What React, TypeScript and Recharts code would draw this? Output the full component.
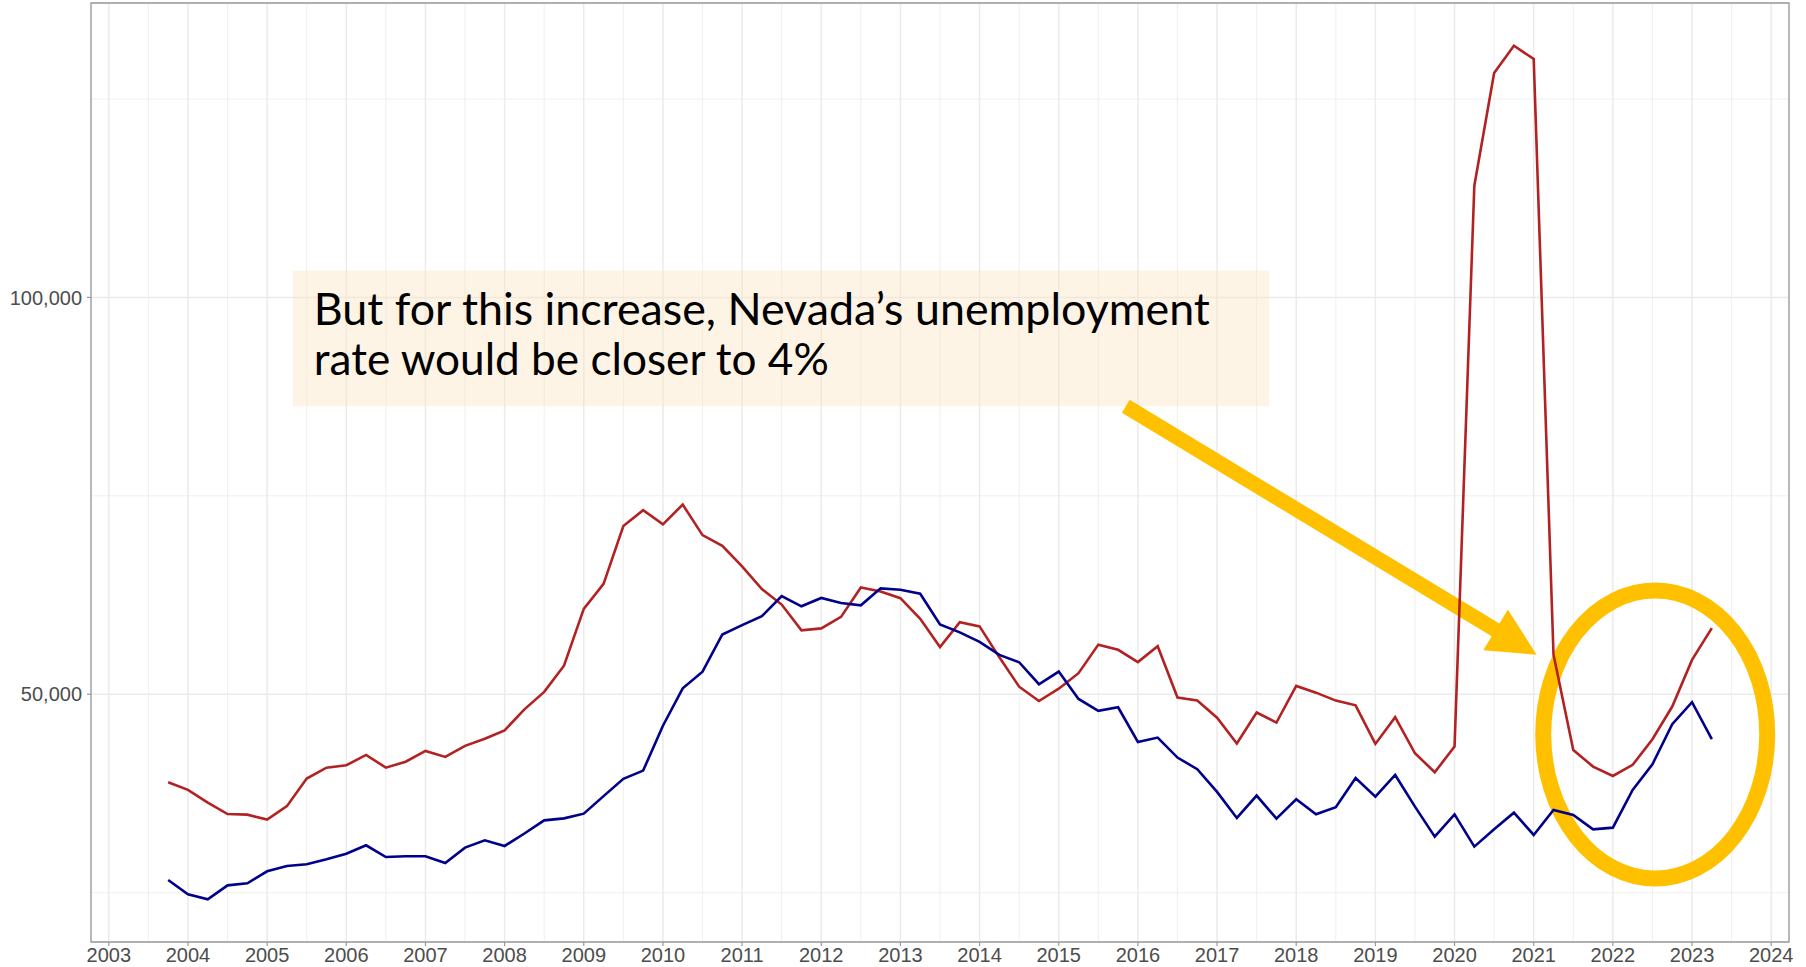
import React from 'react';
import {
  LineChart,
  Line,
  XAxis,
  YAxis,
  CartesianGrid,
  ReferenceLine,
  ReferenceArea,
  ReferenceDot,
  Label,
} from 'recharts';

// quarterly observations, 2003 Q4 .. 2023 Q2
const QUARTERS = [
  '2003Q4',
  '2004Q1', '2004Q2', '2004Q3', '2004Q4',
  '2005Q1', '2005Q2', '2005Q3', '2005Q4',
  '2006Q1', '2006Q2', '2006Q3', '2006Q4',
  '2007Q1', '2007Q2', '2007Q3', '2007Q4',
  '2008Q1', '2008Q2', '2008Q3', '2008Q4',
  '2009Q1', '2009Q2', '2009Q3', '2009Q4',
  '2010Q1', '2010Q2', '2010Q3', '2010Q4',
  '2011Q1', '2011Q2', '2011Q3', '2011Q4',
  '2012Q1', '2012Q2', '2012Q3', '2012Q4',
  '2013Q1', '2013Q2', '2013Q3', '2013Q4',
  '2014Q1', '2014Q2', '2014Q3', '2014Q4',
  '2015Q1', '2015Q2', '2015Q3', '2015Q4',
  '2016Q1', '2016Q2', '2016Q3', '2016Q4',
  '2017Q1', '2017Q2', '2017Q3', '2017Q4',
  '2018Q1', '2018Q2', '2018Q3', '2018Q4',
  '2019Q1', '2019Q2', '2019Q3', '2019Q4',
  '2020Q1', '2020Q2', '2020Q3', '2020Q4',
  '2021Q1', '2021Q2', '2021Q3', '2021Q4',
  '2022Q1', '2022Q2', '2022Q3', '2022Q4',
  '2023Q1', '2023Q2',
];

const RED = [
  38900,
  37950, 36350, 34900, 34830,
  34200, 35900, 39370, 40750,
  41050, 42350, 40750, 41500,
  42850, 42100, 43500, 44400,
  45450, 48100, 50300, 53600,
  60750, 63900, 71200, 73200,
  71400, 73900, 70050, 68700,
  66100, 63250, 61300, 58050,
  58300, 59750, 63450, 62950,
  62100, 59500, 55950, 59070,
  58550, 54650, 50950, 49150,
  50700, 52650, 56250, 55600,
  54050, 56050, 49580, 49200,
  47050, 43800, 47700, 46430,
  51050, 50200, 49200, 48600,
  43740, 47100, 42560, 40170,
  43400, 114080, 128280, 131720,
  130040, 55000, 42980, 40880,
  39700, 41100, 44330, 48450,
  54330, 58330,
];

const BLUE = [
  26600,
  24790, 24160, 25920, 26180,
  27690, 28360, 28570, 29200,
  29910, 30970, 29490, 29580,
  29580, 28740, 30670, 31600,
  30880, 32450, 34110, 34360,
  34950, 37160, 39340, 40380,
  46030, 50750, 52840, 57530,
  58700, 59830, 62380, 61080,
  62130, 61500, 61200, 63340,
  63170, 62670, 58800, 57800,
  56600, 54960, 54030, 51260,
  52860, 49410, 47900, 48360,
  43990, 44540, 42020, 40550,
  37690, 34410, 37230, 34330,
  36760, 34870, 35760, 39450,
  37100, 39830, 35840, 32060,
  34870, 30800, 32980, 35080,
  32270, 35420, 34790, 32980,
  33190, 37940, 41180, 46220,
  48990, 44330,
];

const YEAR_TICKS = [
  2003, 2004, 2005, 2006, 2007, 2008, 2009, 2010, 2011, 2012, 2013,
  2014, 2015, 2016, 2017, 2018, 2019, 2020, 2021, 2022, 2023, 2024,
];
const Y_TICKS = [50000, 100000];
const Y_MINOR = [25000, 75000, 125000];

const X_DOMAIN = [2002.775, 2024.225];
const Y_DOMAIN = [18780, 137100];

// annotation, placed in data units
const NOTE_LINES = ['But for this increase, Nevada’s unemployment', 'rate would be closer to 4%'];
const NOTE_BOX = { x1: 2005.325, x2: 2017.658, y1: 86290, y2: 103405 };
const ARROW_FROM = { x: 2015.847, y: 86290 };
const ARROW_TO = { x: 2021.037, y: 54980 };
const RING_AT = { x: 2022.535, y: 44930 };

const YELLOW = '#FFC000';
const GRID = '#EBEBEB';
const FRAME = '#9A9A9A';
const AXIS_FONT = '"Liberation Sans", Arial, sans-serif';

const data = QUARTERS.map((q, i) => ({
  t: Number(q.slice(0, 4)) + (Number(q.slice(5)) - 1) / 4,
  red: RED[i],
  blue: BLUE[i],
}));

const halfYears = YEAR_TICKS.slice(0, -1).map(y => y + 0.5);

function ArrowShape(p: any) {
  const { x1, y1, x2, y2 } = p;
  if (x1 == null || x2 == null) return <g />;
  const len = Math.hypot(x2 - x1, y2 - y1);
  const ux = (x2 - x1) / len;
  const uy = (y2 - y1) / len;
  const nx = -uy;
  const ny = ux;
  const shaft = 7.5;
  const headW = 23.7;
  const headL = 48;
  const bx = x2 - ux * headL;
  const by = y2 - uy * headL;
  const pts = [
    [x1 + nx * shaft, y1 + ny * shaft],
    [bx + nx * shaft, by + ny * shaft],
    [bx + nx * headW, by + ny * headW],
    [x2, y2],
    [bx - nx * headW, by - ny * headW],
    [bx - nx * shaft, by - ny * shaft],
    [x1 - nx * shaft, y1 - ny * shaft],
  ];
  return <polygon points={pts.map(q => q.join(',')).join(' ')} fill={YELLOW} />;
}

function RingShape(p: any) {
  return <ellipse cx={p.cx} cy={p.cy} rx={112} ry={144} fill="none" stroke={YELLOW} strokeWidth={16} />;
}

function NoteText(props: any) {
  const vb = props.viewBox;
  if (!vb) return null;
  const style = { fontFamily: 'Lato, "Open Sans", sans-serif', fontSize: 44, fill: '#000' };
  return (
    <g>
      <text x={vb.x + 21} y={vb.y + 55} textLength={896} lengthAdjust="spacingAndGlyphs" style={style}>
        {NOTE_LINES[0]}
      </text>
      <text x={vb.x + 21} y={vb.y + 105} textLength={515} lengthAdjust="spacingAndGlyphs" style={style}>
        {NOTE_LINES[1]}
      </text>
    </g>
  );
}

export default function App() {
  const tick = { fill: '#4D4D4D', fontSize: 20, fontFamily: AXIS_FONT };
  return (
    <div style={{ position: 'absolute', left: 0, top: 0, width: 1806, height: 967, background: '#fff' }}>
      <LineChart width={1806} height={967} data={data} margin={{ top: 3, right: 17, bottom: 0, left: 0 }}>
        <CartesianGrid stroke={GRID} strokeWidth={1.5} />
        {halfYears.map(x => (
          <ReferenceLine key={'vx' + x} x={x} stroke={GRID} strokeWidth={0.8} zIndex={-90} />
        ))}
        {Y_MINOR.map(y => (
          <ReferenceLine key={'hy' + y} y={y} stroke={GRID} strokeWidth={0.8} zIndex={-90} />
        ))}
        <XAxis
          type="number"
          dataKey="t"
          domain={X_DOMAIN}
          ticks={YEAR_TICKS}
          allowDataOverflow
          height={25}
          axisLine={false}
          tickLine={{ stroke: FRAME, strokeWidth: 1.2 }}
          tickSize={4}
          tickMargin={2}
          tick={tick}
          interval={0}
        />
        <YAxis
          type="number"
          domain={Y_DOMAIN}
          ticks={Y_TICKS}
          allowDataOverflow
          width={91}
          axisLine={false}
          tickLine={{ stroke: FRAME, strokeWidth: 1.2 }}
          tickSize={4}
          tickMargin={5}
          tick={tick}
          tickFormatter={(v: number) => v.toLocaleString('en-US')}
        />
        <ReferenceArea
          x1={NOTE_BOX.x1}
          x2={NOTE_BOX.x2}
          y1={NOTE_BOX.y1}
          y2={NOTE_BOX.y2}
          fill="#FCE4C4"
          fillOpacity={0.42}
          stroke="none"
          zIndex={-50}
        >
          <Label content={NoteText} />
        </ReferenceArea>
        <ReferenceLine
          segment={[ARROW_FROM, ARROW_TO]}
          shape={ArrowShape}
          stroke={YELLOW}
          zIndex={-40}
        />
        <ReferenceDot x={RING_AT.x} y={RING_AT.y} shape={RingShape} zIndex={-30} />
        <Line
          type="linear"
          dataKey="red"
          stroke="#B22222"
          strokeWidth={2.6}
          dot={false}
          activeDot={false}
          isAnimationActive={false}
        />
        <Line
          type="linear"
          dataKey="blue"
          stroke="#00008B"
          strokeWidth={2.6}
          dot={false}
          activeDot={false}
          isAnimationActive={false}
        />
        <ReferenceArea
          x1={X_DOMAIN[0]}
          x2={X_DOMAIN[1]}
          y1={Y_DOMAIN[0]}
          y2={Y_DOMAIN[1]}
          fill="none"
          stroke={FRAME}
          strokeWidth={1.3}
          zIndex={900}
        />
      </LineChart>
    </div>
  );
}
